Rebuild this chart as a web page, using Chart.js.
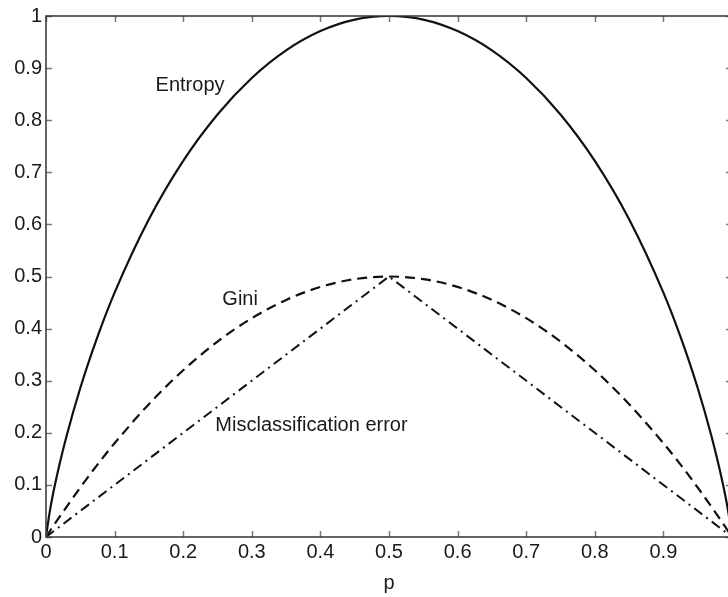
<!DOCTYPE html>
<html>
<head>
<meta charset="utf-8">
<script src="https://cdn.jsdelivr.net/npm/chart.js@4"></script>
<style>
  html, body { margin: 0; padding: 0; background: #fff; overflow: hidden; }
  #wrap { width: 740px; height: 597px; }
</style>
</head>
<body>
<div id="wrap"><canvas id="chart" width="740" height="597"></canvas></div>
<script>
// valores
const pValues = [0, 0.005, 0.01, 0.02, 0.03, 0.05, 0.075, 0.1, 0.15, 0.2, 0.25, 0.3, 0.35, 0.4, 0.45, 0.5,
  0.55, 0.6, 0.65, 0.7, 0.75, 0.8, 0.85, 0.9, 0.925, 0.95, 0.97, 0.98, 0.99, 0.995, 1];
const entropia = [0, 0.045, 0.081, 0.141, 0.194, 0.286, 0.384, 0.469, 0.61, 0.722, 0.811, 0.881, 0.934, 0.971, 0.993, 1,
  0.993, 0.971, 0.934, 0.881, 0.811, 0.722, 0.61, 0.469, 0.384, 0.286, 0.194, 0.141, 0.081, 0.045, 0];
const gini = [0, 0.01, 0.02, 0.039, 0.058, 0.095, 0.139, 0.18, 0.255, 0.32, 0.375, 0.42, 0.455, 0.48, 0.495, 0.5,
  0.495, 0.48, 0.455, 0.42, 0.375, 0.32, 0.255, 0.18, 0.139, 0.095, 0.058, 0.039, 0.02, 0.01, 0];
const erroPontos = [0, 0.5, 1];
const erro = [0, 0.5, 0];
const yTicks = [0, 0.1, 0.2, 0.3, 0.4, 0.5, 0.6, 0.7, 0.8, 0.9, 1];
const xTicks = [0, 0.1, 0.2, 0.3, 0.4, 0.5, 0.6, 0.7, 0.8, 0.9, 1];
const rotulos = [
  { texto: "Entropy", p: 0.21, v: 0.866 },
  { texto: "Gini", p: 0.283, v: 0.455 },
  { texto: "Misclassification error", p: 0.387, v: 0.215 }
];

const fonte = "Liberation Sans, Arial, Helvetica, sans-serif";

const toPts = (xs, ys) => xs.map((x, i) => ({ x: x, y: ys[i] }));

// caixa estilo matlab com ticks para dentro
const caixaPlugin = {
  id: "caixa",
  afterDraw(chart) {
    const ctx = chart.ctx;
    const sx = chart.scales.x, sy = chart.scales.y;
    const left = sx.getPixelForValue(0), right = sx.getPixelForValue(1);
    const top = sy.getPixelForValue(1), bottom = sy.getPixelForValue(0);
    ctx.save();
    ctx.strokeStyle = "#777";
    ctx.lineWidth = 1.5;
    xTicks.forEach(t => {
      const px = Math.round(sx.getPixelForValue(t)) + 0.5;
      ctx.beginPath();
      ctx.moveTo(px, bottom); ctx.lineTo(px, bottom - 6);
      ctx.moveTo(px, top); ctx.lineTo(px, top + 6);
      ctx.stroke();
    });
    yTicks.forEach(t => {
      const py = Math.round(sy.getPixelForValue(t)) + 0.5;
      ctx.beginPath();
      ctx.moveTo(left, py); ctx.lineTo(left + 6, py);
      ctx.moveTo(right, py); ctx.lineTo(right - 6, py);
      ctx.stroke();
    });
    ctx.strokeStyle = "#333";
    ctx.lineWidth = 1.5;
    ctx.strokeRect(left, top, right - left, bottom - top);
    ctx.fillStyle = "#1a1a1a";
    ctx.font = "20px " + fonte;
    ctx.textAlign = "center";
    ctx.textBaseline = "middle";
    rotulos.forEach(r => {
      ctx.fillText(r.texto, sx.getPixelForValue(r.p), sy.getPixelForValue(r.v));
    });
    ctx.restore();
  }
};

new Chart(document.getElementById("chart"), {
  type: "line",
  data: {
    datasets: [
      {
        label: "Entropy",
        data: toPts(pValues, entropia),
        borderColor: "#111",
        borderWidth: 2.2,
        pointRadius: 0,
        cubicInterpolationMode: "monotone",
        fill: false
      },
      {
        label: "Gini",
        data: toPts(pValues, gini),
        borderColor: "#111",
        borderWidth: 2.2,
        borderDash: [10, 6],
        pointRadius: 0,
        cubicInterpolationMode: "monotone",
        fill: false
      },
      {
        label: "Misclassification error",
        data: toPts(erroPontos, erro),
        borderColor: "#111",
        borderWidth: 2,
        borderDash: [10, 5, 2, 5],
        pointRadius: 0,
        tension: 0,
        fill: false
      }
    ]
  },
  options: {
    responsive: false,
    animation: false,
    layout: { padding: { top: 15, right: 8, left: 0, bottom: 0 } },
    plugins: {
      legend: { display: false },
      tooltip: { enabled: false }
    },
    scales: {
      x: {
        type: "linear",
        min: 0,
        max: 1,
        afterBuildTicks: (s) => { s.ticks = xTicks.slice(0, 10).map(v => ({ value: v })); },
        afterFit: (s) => { s.height = 60; },
        grid: { display: false, drawTicks: false },
        border: { display: false },
        ticks: {
          color: "#1a1a1a",
          font: { family: fonte, size: 20 },
          padding: 3,
          maxRotation: 0,
          callback: (v) => String(v)
        },
        title: {
          display: true,
          text: "p",
          color: "#1a1a1a",
          font: { family: fonte, size: 20 },
          padding: { top: 0, bottom: 2 }
        }
      },
      y: {
        type: "linear",
        min: 0,
        max: 1,
        afterBuildTicks: (s) => { s.ticks = yTicks.map(v => ({ value: v })); },
        afterFit: (s) => { s.width = 46; },
        grid: { display: false, drawTicks: false },
        border: { display: false },
        ticks: {
          color: "#1a1a1a",
          font: { family: fonte, size: 20 },
          padding: 4,
          callback: (v) => String(v)
        }
      }
    }
  },
  plugins: [caixaPlugin]
});
</script>
</body>
</html>
